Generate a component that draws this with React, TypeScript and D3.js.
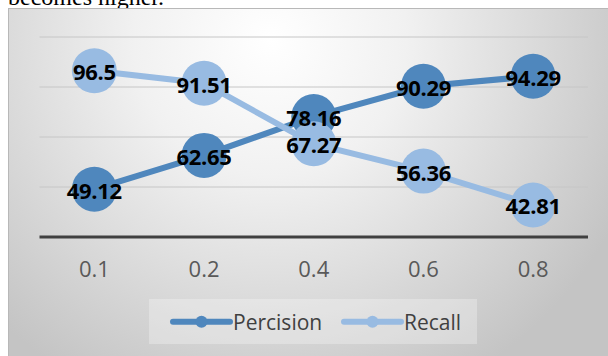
import React from "react";
import * as d3 from "d3";

// Threshold values along the horizontal axis
const categories: string[] = ["0.1", "0.2", "0.4", "0.6", "0.8"];
// Series values (percent)
const precision: number[] = [49.12, 62.65, 78.16, 90.29, 94.29];
const recall: number[] = [96.5, 91.51, 67.27, 56.36, 42.81];
// Value-axis gridline values
const gridValues: number[] = [50, 70, 90, 110];
const seriesNames: string[] = ["Percision", "Recall"];

const W = 608;
const H = 356;
const plot = { left: 39.5, right: 588, top: 37, bottom: 237 };

const PREC_COLOR = "#4f87bd";
const REC_COLOR = "#98bbe2";

export default function App() {
  const x = d3
    .scaleBand<string>()
    .domain(categories)
    .range([plot.left, plot.right])
    .paddingInner(0)
    .paddingOuter(0);
  const cx = (c: string) => (x(c) as number) + x.bandwidth() / 2;
  const y = d3.scaleLinear().domain([30, 110]).range([plot.bottom, plot.top]);

  const line = d3
    .line<number>()
    .x((_, i) => cx(categories[i]))
    .y((v) => y(v));

  const series = [
    { name: seriesNames[0], values: precision, color: PREC_COLOR },
    { name: seriesNames[1], values: recall, color: REC_COLOR },
  ];

  const font = "'Open Sans', 'DejaVu Sans', sans-serif";

  return (
    <svg
      width={W}
      height={H}
      style={{ position: "absolute", left: 0, top: 0, display: "block" }}
      xmlns="http://www.w3.org/2000/svg"
    >
      <defs>
        <radialGradient id="bg" gradientUnits="userSpaceOnUse" cx={270} cy={40} r={390}>
          <stop offset="0" stopColor="#ffffff" />
          <stop offset="0.35" stopColor="#f1f1f1" />
          <stop offset="1" stopColor="#c4c4c4" />
        </radialGradient>
      </defs>
      <rect x={0} y={0} width={W} height={H} fill="#ffffff" />
      {/* tail of the paragraph above the figure */}
      <text
        x={8}
        y={5}
        fontFamily="'Liberation Serif', 'Times New Roman', serif"
        fontSize={24}
        fill="#000"
      >
        becomes higher.
      </text>
      {/* chart area */}
      <rect x={8.5} y={8.5} width={W} height={H} fill="url(#bg)" stroke="#b8b8b8" strokeWidth={1} />

      {/* gridlines */}
      {gridValues.map((v) => (
        <line
          key={v}
          x1={plot.left}
          x2={plot.right}
          y1={y(v)}
          y2={y(v)}
          stroke="#c6c6c6"
          strokeWidth={1}
        />
      ))}
      {/* category axis */}
      <line
        x1={plot.left}
        x2={plot.right}
        y1={y(30)}
        y2={y(30)}
        stroke="#404040"
        strokeWidth={3}
      />
      {categories.map((c) => (
        <text
          key={c}
          x={cx(c)}
          y={277}
          textAnchor="middle"
          fontFamily={font}
          fontSize={22}
          fill="#595959"
        >
          {c}
        </text>
      ))}

      {/* series lines and markers */}
      {series.map((s) => (
        <g key={s.name}>
          <path d={line(s.values) || ""} fill="none" stroke={s.color} strokeWidth={6} />
          {s.values.map((v, i) => (
            <circle key={i} cx={cx(categories[i])} cy={y(v)} r={22.5} fill={s.color} />
          ))}
        </g>
      ))}

      {/* data labels */}
      {series.map((s) =>
        s.values.map((v, i) => (
          <text
            key={s.name + i}
            x={cx(categories[i])}
            y={y(v) + 9.5}
            textAnchor="middle"
            fontFamily={font}
            fontWeight={700}
            fontSize={22}
            letterSpacing={-0.3}
            fill="#000"
          >
            {String(v)}
          </text>
        ))
      )}

      {/* legend */}
      <rect x={149} y={299} width={328} height={45} fill="#ffffff" fillOpacity={0.28} />
      {series.map((s, i) => {
        const x0 = i === 0 ? 173 : 344;
        return (
          <g key={s.name}>
            <line x1={x0} x2={x0 + 57} y1={321.7} y2={321.7} stroke={s.color} strokeWidth={6} strokeLinecap="round" />
            <circle cx={x0 + 28.5} cy={321.7} r={6} fill={s.color} />
            <text x={x0 + 60} y={329.5} fontFamily={font} fontSize={21} fill="#404040">
              {s.name}
            </text>
          </g>
        );
      })}
    </svg>
  );
}
